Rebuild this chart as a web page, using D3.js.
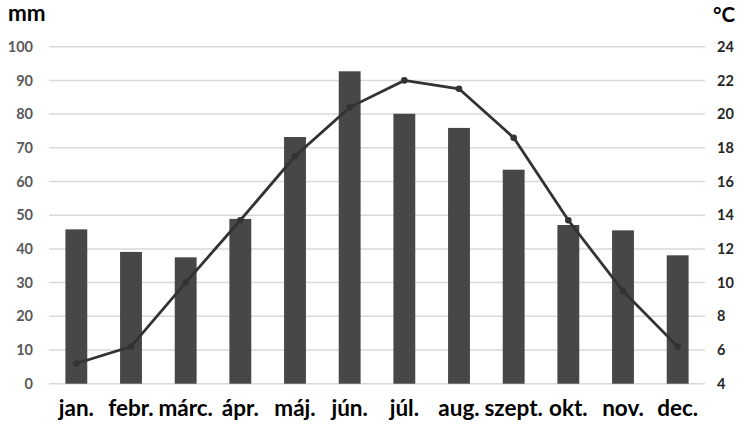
<!DOCTYPE html>
<html><head><meta charset="utf-8">
<script src="https://cdn.jsdelivr.net/npm/d3@7"></script>
<style>body{margin:0;background:#fff}svg{display:block}</style>
</head><body>
<script>
const months = ["jan.","febr.","márc.","ápr.","máj.","jún.","júl.","aug.","szept.","okt.","nov.","dec."];
const precipitation = [45.8, 39.1, 37.5, 48.9, 73.2, 92.7, 80.1, 75.9, 63.5, 47.1, 45.5, 38.1];
const temperature = [5.2, 6.2, 10.0, 13.7, 17.5, 20.4, 22.0, 21.5, 18.6, 13.7, 9.5, 6.2];
const mmTicks = [0,10,20,30,40,50,60,70,80,90,100];
const tempTicks = [4,6,8,10,12,14,16,18,20,22,24];

const W = 748, H = 430;
const plotL = 49, plotR = 705, plotT = 46.7, plotB = 383.7;
const font = "Lato, 'Open Sans', sans-serif";

const svg = d3.select("body").append("svg").attr("width", W).attr("height", H);

const x = d3.scaleBand().domain(months).range([plotL, plotR]).paddingInner(0.6).paddingOuter(0.3);
const yL = d3.scaleLinear().domain([0, 100]).range([plotB, plotT]);
const yR = d3.scaleLinear().domain([4, 24]).range([plotB, plotT]);

// grid
svg.append("g").selectAll("line").data(mmTicks).join("line")
  .attr("x1", plotL).attr("x2", plotR)
  .attr("y1", d => yL(d)).attr("y2", d => yL(d))
  .attr("stroke", "#d9d9d9").attr("stroke-width", 1.5);

// left axis
const axL = d3.axisLeft(yL).tickValues(mmTicks).tickSize(0).tickPadding(0);
const gL = svg.append("g").attr("transform", `translate(33,0)`).call(axL);
gL.select(".domain").remove();
gL.selectAll("text").attr("fill", "#595959").attr("font-family", font)
  .attr("font-weight", "bold").attr("font-size", 14.5).attr("x", 0);

// right axis
const axR = d3.axisRight(yR).tickValues(tempTicks).tickSize(0).tickPadding(0);
const gR = svg.append("g").attr("transform", `translate(717,0)`).call(axR);
gR.select(".domain").remove();
gR.selectAll("text").attr("fill", "#262626").attr("font-family", font)
  .attr("font-weight", "bold").attr("font-size", 14.5);

// bars
svg.append("g").selectAll("rect").data(precipitation).join("rect")
  .attr("x", (d, i) => x(months[i]))
  .attr("width", x.bandwidth())
  .attr("y", d => yL(d))
  .attr("height", d => yL(0) - yL(d))
  .attr("fill", "#474747");

// line
const cx = i => x(months[i]) + x.bandwidth() / 2;
const line = d3.line().x((d, i) => cx(i)).y(d => yR(d));
svg.append("path").datum(temperature).attr("d", line)
  .attr("fill", "none").attr("stroke", "#333").attr("stroke-width", 2.8);
svg.append("g").selectAll("circle").data(temperature).join("circle")
  .attr("cx", (d, i) => cx(i)).attr("cy", d => yR(d)).attr("r", 3.3).attr("fill", "#333");

// x labels
const axB = d3.axisBottom(x).tickSize(0).tickPadding(0);
const gB = svg.append("g").attr("transform", `translate(0,${plotB})`).call(axB);
gB.select(".domain").remove();
gB.selectAll("text").attr("fill", "#000").attr("font-family", font)
  .attr("font-weight", "bold").attr("font-size", 22.5).attr("y", 32).attr("dy", null);

// unit labels
svg.append("text").attr("x", 8).attr("y", 21).text("mm")
  .attr("font-family", font).attr("font-weight", "bold").attr("font-size", 22.5).attr("fill", "#000");
svg.append("text").attr("x", 713).attr("y", 22).text("°C")
  .attr("font-family", font).attr("font-weight", "bold").attr("font-size", 20.5).attr("fill", "#000");
</script>
</body></html>
